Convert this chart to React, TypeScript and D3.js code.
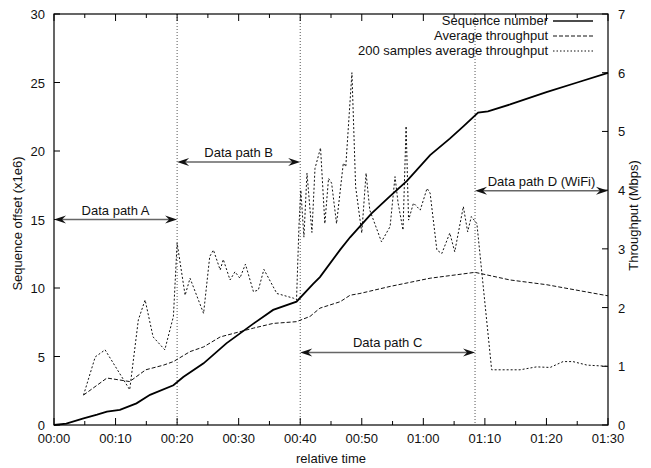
import React from 'react'
import * as d3 from 'd3'

// sequence number (x1e6), left axis
const seqTime = [0, 2, 4.8, 7, 8.6, 10.7, 13.4, 15.6, 19.4, 21, 24.3, 28, 32.4, 35.6, 39.4, 42.1, 43.2, 46.5, 48.1, 49.7, 51.6, 54.6, 57.3, 61.1, 64.3, 66.5, 68.9, 70.5, 74.1, 80, 85, 90]
const seqValue = [0, 0.1, 0.49, 0.75, 0.97, 1.1, 1.58, 2.2, 2.9, 3.5, 4.5, 5.96, 7.4, 8.4, 9.0, 10.3, 10.8, 12.8, 13.7, 14.5, 15.45, 16.7, 17.8, 19.7, 20.9, 21.8, 22.8, 22.9, 23.4, 24.3, 25.0, 25.7]

// average throughput (Mbps), right axis
const avgTime = [4.8, 8.6, 12.3, 14.9, 17.8, 19.4, 22.1, 24.3, 27, 32.4, 35.6, 39.4, 41.6, 43.2, 46.5, 48.1, 49.7, 54.6, 61.1, 68.4, 74.1, 80, 90]
const avgValue = [0.51, 0.8, 0.74, 0.94, 1.02, 1.08, 1.25, 1.33, 1.5, 1.65, 1.73, 1.76, 1.85, 1.99, 2.1, 2.21, 2.24, 2.36, 2.5, 2.6, 2.47, 2.39, 2.2]

// 200 samples average throughput (Mbps), right axis
const sampleTime = [4.8, 6.7, 8.3, 12.3, 13.7, 14.8, 16.1, 18, 19.4, 20, 21.3, 22.1, 24.3, 25.3, 25.9, 27, 27.5, 28.6, 29.4, 30.2, 31.1, 32.4, 33.2, 34.1, 36.2, 38.9, 39.4, 39.8, 40.1, 40.6, 41.1, 41.9, 42.4, 43.3, 44, 44.6, 45.1, 45.9, 47, 47.4, 48.4, 49, 50, 50.7, 51.3, 53.2, 54.6, 55.4, 55.9, 56.7, 57.2, 57.6, 58.4, 59.5, 60.6, 61.1, 62.2, 63, 64.3, 65.1, 66.5, 67.2, 67.8, 68.7, 71.1, 75.7, 78.4, 80.6, 82.7, 84.3, 86.6, 89.8]
const sampleValue = [0.51, 1.16, 1.28, 0.6, 1.79, 2.13, 1.5, 1.28, 1.85, 3.1, 2.21, 2.5, 1.9, 2.87, 2.98, 2.64, 2.82, 2.47, 2.61, 2.5, 2.74, 2.27, 2.3, 2.65, 2.24, 2.16, 2.13, 3.4, 4.0, 3.2, 4.29, 3.28, 4.37, 4.72, 3.43, 4.2, 4.12, 3.43, 4.46, 4.4, 6.0, 4.06, 3.27, 4.29, 3.66, 3.12, 3.38, 4.23, 3.78, 3.32, 5.09, 3.49, 3.78, 3.66, 4.03, 3.95, 2.98, 2.92, 3.27, 2.95, 3.72, 3.29, 3.55, 3.43, 0.94, 0.94, 0.99, 0.98, 1.08, 1.08, 1.02, 1.0]

const legendLabels = ['Sequence number', 'Average throughput', '200 samples average throughput']

const pathLabels = ['Data path A', 'Data path B', 'Data path C', 'Data path D (WiFi)']
const pathStart = [0, 20, 40, 68.4]
const pathEnd = [20, 40, 68.4, 90]
const pathLevel = [15, 19.2, 5.3, 17.1]

const switchTimes = [20, 40, 68.4]

const W = 651
const H = 468
const margin = { left: 54, right: 43, top: 14, bottom: 43 }
const sans = '"Liberation Sans", Arial, sans-serif'

const fmtTime = (s: number) => d3.format('02d')(Math.floor(s / 60)) + ':' + d3.format('02d')(s % 60)

function Arrow({ x1, x2, y }: { x1: number; x2: number; y: number }) {
  const L = 12
  const w = 4
  const n = 8
  const head = (tip: number, dir: number) =>
    `M${tip},${y}L${tip - dir * L},${y - w}L${tip - dir * n},${y}L${tip - dir * L},${y + w}Z`
  return (
    <g>
      <line x1={x1 + 6} x2={x2 - 6} y1={y} y2={y} stroke="#666" strokeWidth={1.5} />
      <path d={head(x1, -1)} fill="#111" />
      <path d={head(x2, 1)} fill="#111" />
    </g>
  )
}

export default function App() {
  const x = d3.scaleLinear().domain([0, 90]).range([margin.left, W - margin.right])
  const y = d3.scaleLinear().domain([0, 30]).range([H - margin.bottom, margin.top])
  const y2 = d3.scaleLinear().domain([0, 7]).range([H - margin.bottom, margin.top])

  const seqLine = d3.line<number>().x((d, i) => x(seqTime[i])).y((d) => y(d))
  const avgLine = d3.line<number>().x((d, i) => x(avgTime[i])).y((d) => y2(d))
  const sampleLine = d3.line<number>().x((d, i) => x(sampleTime[i])).y((d) => y2(d))

  const x0 = margin.left
  const x1 = W - margin.right
  const yb = H - margin.bottom
  const yt = margin.top

  const xMajor = d3.range(0, 91, 10)
  const xMinor = d3.range(5, 90, 10)
  const yTicks = y.ticks(6)
  const y2Ticks = d3.range(0, 8, 1)

  const legendDash = ['none', '4,2', '1.5,2']
  const legendWidth = [1.5, 1, 1]

  return (
    <div style={{ position: 'absolute', left: 0, top: 0 }}>
      <svg width={W} height={H} style={{ display: 'block', background: '#fff' }}>
        {/* switch markers */}
        {switchTimes.map((t) => (
          <line key={t} x1={x(t)} x2={x(t)} y1={yt} y2={yb} stroke="#555" strokeWidth={1} strokeDasharray="1,2" />
        ))}

        {/* ticks */}
        <g stroke="#000" strokeWidth={1}>
          {xMajor.map((t) => (
            <g key={'M' + t}>
              <line x1={x(t)} x2={x(t)} y1={yb} y2={yb - 7} />
              <line x1={x(t)} x2={x(t)} y1={yt} y2={yt + 7} />
            </g>
          ))}
          {xMinor.map((t) => (
            <g key={'m' + t}>
              <line x1={x(t)} x2={x(t)} y1={yb} y2={yb - 4} />
              <line x1={x(t)} x2={x(t)} y1={yt} y2={yt + 4} />
            </g>
          ))}
          {yTicks.map((t) => (
            <line key={'y' + t} x1={x0} x2={x0 + 6} y1={y(t)} y2={y(t)} />
          ))}
          {y2Ticks.map((t) => (
            <line key={'y2' + t} x1={x1} x2={x1 - 6} y1={y2(t)} y2={y2(t)} />
          ))}
        </g>

        {/* series */}
        <path d={sampleLine(sampleValue) || ''} fill="none" stroke="#111" strokeWidth={1} strokeDasharray="2,2" />
        <path d={avgLine(avgValue) || ''} fill="none" stroke="#111" strokeWidth={1} strokeDasharray="4,2" />
        <path d={seqLine(seqValue) || ''} fill="none" stroke="#000" strokeWidth={1.8} />

        {/* data path annotations */}
        {pathLabels.map((label, i) => {
          const ya = y(pathLevel[i])
          return (
            <g key={label}>
              <Arrow x1={x(pathStart[i])} x2={x(pathEnd[i])} y={ya} />
              <text
                x={(x(pathStart[i]) + x(pathEnd[i])) / 2}
                y={ya - 5}
                textAnchor="middle"
                fontFamily={sans}
                fontSize={13}
                fill="#111"
              >
                {label}
              </text>
            </g>
          )
        })}

        {/* frame */}
        <rect x={x0} y={yt} width={x1 - x0} height={yb - yt} fill="none" stroke="#000" strokeWidth={1.2} />

        {/* tick labels */}
        <g fontFamily={sans} fontSize={13} fill="#111">
          {xMajor.map((t) => (
            <text key={'xl' + t} x={x(t)} y={yb + 18} textAnchor="middle">
              {fmtTime(t)}
            </text>
          ))}
          {yTicks.map((t) => (
            <text key={'yl' + t} x={x0 - 9} y={y(t) + 5} textAnchor="end">
              {t}
            </text>
          ))}
          {y2Ticks.map((t) => (
            <text key={'y2l' + t} x={x1 + 10} y={y2(t) + 5} textAnchor="start">
              {t}
            </text>
          ))}
          <text x={(x0 + x1) / 2} y={H - 5} textAnchor="middle">
            relative time
          </text>
          <text transform={`translate(22, ${(yt + yb) / 2 + 4}) rotate(-90)`} textAnchor="middle">
            Sequence offset (x1e6)
          </text>
          <text transform={`translate(638, ${(yt + yb) / 2 - 4}) rotate(-90)`} textAnchor="middle">
            Throughput (Mbps)
          </text>
        </g>

        {/* legend */}
        <g fontFamily={sans} fontSize={13} fill="#111">
          {legendLabels.map((label, i) => (
            <g key={label} transform={`translate(0, ${25 + i * 15})`}>
              <text x={548} y={0} textAnchor="end">
                {label}
              </text>
              <line
                x1={553}
                x2={593}
                y1={-4}
                y2={-4}
                stroke="#111"
                strokeWidth={legendWidth[i]}
                strokeDasharray={legendDash[i]}
              />
            </g>
          ))}
        </g>
      </svg>
    </div>
  )
}
